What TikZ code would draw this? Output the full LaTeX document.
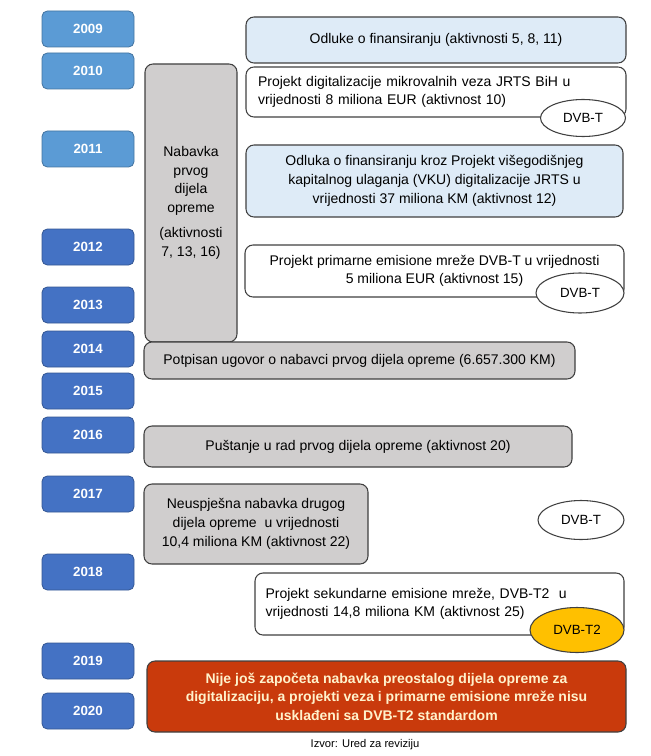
\documentclass[tikz,border=0pt]{standalone}
\usepackage{fontspec}
\setmainfont{Liberation Sans}
\usetikzlibrary{shapes.geometric}
\definecolor{lightyear}{HTML}{5B9BD5}
\definecolor{darkyear}{HTML}{4472C4}
\definecolor{paleblue}{HTML}{DEEBF7}
\definecolor{boxgray}{HTML}{D0CECE}
\definecolor{edge}{HTML}{404040}
\definecolor{alarm}{HTML}{C93A0C}
\definecolor{cream}{HTML}{FFF2CC}
\definecolor{gold}{HTML}{FFC000}

\begin{document}
\begin{tikzpicture}[x=0.75pt, y=-0.75pt,
  year/.style={draw=#1!75!black, fill=#1, rounded corners=4pt, minimum width=69pt, minimum height=27pt, text=white, font=\fontsize{10}{12}\selectfont\bfseries, line width=0.6pt},
  event/.style={draw=edge, rounded corners=6pt, line width=0.8pt, inner sep=0pt, font=\fontsize{10.5}{14}\selectfont},
  tag/.style={draw=edge, ellipse, line width=0.8pt, inner sep=0pt, fill=white, font=\fontsize{10}{12}\selectfont}]
\useasboundingbox (0,0) rectangle (650,756);
% years
\foreach \yr/\yy/\col in {2009/29/lightyear, 2010/71/lightyear, 2011/149/lightyear, 2012/247/darkyear, 2013/305/darkyear, 2014/349/darkyear, 2015/391/darkyear, 2016/435/darkyear, 2017/494/darkyear, 2018/572/darkyear, 2019/661/darkyear, 2020/711/darkyear}
  \node[year=\col] (y\yr) at (88,\yy) {\yr};
% first part of equipment
\node[event, fill=boxgray, minimum width=69pt, minimum height=208.5pt, align=center] (nabavka) at (191,203) {Nabavka\\prvog\\dijela\\opreme\\[5pt](aktivnosti\\7, 13, 16)};
\node[event, fill=paleblue, minimum width=285pt, minimum height=34.5pt] (odluke) at (436,40) {Odluke o finansiranju (aktivnosti 5, 8, 11)};
\node[event, fill=white, minimum width=285pt, minimum height=37.5pt, text width=267pt, align=left] (mikro) at (436,92) {Projekt digitalizacije mikrovalnih veza JRTS BiH u\\vrijednosti 8 miliona EUR (aktivnost 10)};
\node[tag, minimum width=63.75pt, minimum height=27.75pt] (dvbA) at (583,118) {DVB-T};
\node[event, fill=paleblue, minimum width=282.75pt, minimum height=54pt, align=center] (vku) at (434.5,181) {Odluka o finansiranju kroz Projekt višegodišnjeg\\kapitalnog ulaganja (VKU) digitalizacije JRTS u\\vrijednosti 37 miliona KM (aktivnost 12)};
\node[event, fill=white, minimum width=284.25pt, minimum height=39pt, align=center] (primarna) at (434.5,271) {Projekt primarne emisione mreže DVB-T u vrijednosti\\5 miliona EUR (aktivnost 15)};
\node[tag, minimum width=66pt, minimum height=30pt] (dvbB) at (580,293) {DVB-T};
\node[event, fill=boxgray, minimum width=323.25pt, minimum height=27.75pt] (ugovor) at (359.5,360.5) {Potpisan ugovor o nabavci prvog dijela opreme (6.657.300 KM)};
\node[event, fill=boxgray, minimum width=321pt, minimum height=30.75pt] (pustanje) at (358,446.5) {Puštanje u rad prvog dijela opreme (aktivnost 20)};
% second part
\node[event, fill=boxgray, minimum width=168pt, minimum height=60pt, align=center] (neuspjeh) at (256,524) {Neuspješna nabavka drugog\\dijela opreme\ \ u vrijednosti\\10,4 miliona KM (aktivnost 22)};
\node[tag, minimum width=64.5pt, minimum height=29.25pt] (dvbC) at (581,520) {DVB-T};
\node[event, fill=white, minimum width=276.75pt, minimum height=46.5pt, text width=261pt, align=left] (sekundarna) at (439.5,604) {Projekt sekundarne emisione mreže, DVB-T2\ \ u\\vrijednosti 14,8 miliona KM (aktivnost 25)\\[4pt]};
\node[tag, fill=gold, minimum width=70.5pt, minimum height=33.75pt] (dvbD) at (577,630) {DVB-T2};
\node[event, fill=alarm, minimum width=359.25pt, minimum height=53.25pt, align=center, text=cream, font=\fontsize{10.5}{14}\selectfont\bfseries] (zakljucak) at (386.5,696.5) {Nije još započeta nabavka preostalog dijela opreme za\\digitalizaciju, a projekti veza i primarne emisione mreže nisu\\usklađeni sa DVB-T2 standardom};
\node[font=\fontsize{8.4}{9}\selectfont] (izvor) at (365,745) {Izvor: Ured za reviziju};
\end{tikzpicture}
\end{document}
